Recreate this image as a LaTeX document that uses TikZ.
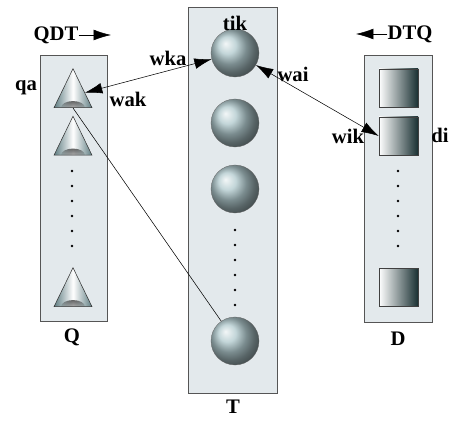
\documentclass[tikz,border=0pt]{standalone}
\usepackage{fontspec}
\setmainfont{Liberation Serif}
\usetikzlibrary{arrows.meta,shapes.geometric,fadings}

\definecolor{boxfill}{RGB}{227,233,236}
\definecolor{boxline}{RGB}{85,85,85}
\definecolor{slate}{RGB}{95,125,130}
\definecolor{ballgrey}{RGB}{175,200,204}
\definecolor{deepteal}{RGB}{25,48,50}

\tikzfading[name=softspot, inner color=transparent!0, outer color=transparent!100]

\tikzset{
    >={Latex[length=13pt,width=8pt]},
    column/.style={draw=boxline, fill=boxfill, inner sep=0pt},
    query/.style={isosceles triangle, shape border rotate=90, isosceles triangle stretches,
        minimum width=28.5pt, minimum height=29.25pt, inner sep=0pt, anchor=south, draw=black!80,
        left color=slate, right color=slate, middle color=white,
        path picture={\fill[black, path fading=softspot] (path picture bounding box.south) ellipse (9pt and 5pt);}},
    term/.style={circle, minimum size=36pt, inner sep=0pt, ball color=ballgrey, draw=black!60, very thin},
    doc/.style={rectangle, minimum width=29.25pt, minimum height=28.5pt, inner sep=0pt,
        draw=black!75, left color=white, middle color=slate!80, right color=deepteal},
    weight/.style={inner sep=1pt}
}

\begin{document}
\begin{tikzpicture}[x=0.75pt, y=-0.75pt, font=\fontsize{15.5}{18}\selectfont\bfseries]
    \useasboundingbox (0,0) rectangle (449,423);
    % the three columns
    \node[column, minimum width=50.25pt, minimum height=199.5pt] (Qbox) at (73.5,188) {};
    \node[column, minimum width=66.75pt, minimum height=289.5pt] (Tbox) at (232.5,200) {};
    \node[column, minimum width=51pt, minimum height=200.25pt] (Dbox) at (398,188.5) {};
    % queries
    \node[query] (q1) at (73,108) {};
    \node[query] (q2) at (73,155.5) {};
    \node[query] (qn) at (73,307) {};
    \foreach \y in {171,186,...,246} \fill (72,\y) circle (1.1pt);
    % terms
    \node[term] (t1) at (235,53) {};
    \node[term] (t2) at (235,123) {};
    \node[term] (t3) at (235,189) {};
    \node[term] (tn) at (235,341) {};
    \foreach \y in {230,245,...,305} \fill (235,\y) circle (1.1pt);
    % documents
    \node[doc] (d1) at (398.5,88) {};
    \node[doc] (d2) at (398.5,136) {};
    \node[doc] (dn) at (398.5,287.5) {};
    \foreach \y in {171,186,...,246} \fill (398,\y) circle (1.1pt);
    % column names
    \node (Qname) at (72,337) {Q};
    \node (Tname) at (233,407) {T};
    \node (Dname) at (398,339) {D};
    \node[inner sep=0pt] (QDT) at (56,35) {QDT};
    \coordinate (QDTend) at (111,35);
    \draw[->] (QDT.east) -- (QDTend);
    \node[inner sep=0pt] (DTQ) at (410,34) {DTQ};
    \coordinate (DTQend) at (356,34);
    \draw[->] (DTQ.west) -- (DTQend);
    % links
    \draw[<->] (q1) -- (t1);
    \draw[<->] (t1) -- (d2.west);
    \draw (q1.south) -- (tn);
    % labels
    \node[weight] (qa) at (26,88) {qa};
    \node[weight] (wak) at (128,99) {wak};
    \node[weight] (wka) at (168,58) {wka};
    \node[weight] (tik) at (235,23) {tik};
    \node[weight] (wai) at (293,74) {wai};
    \node[weight] (wik) at (348,136) {wik};
    \node[weight] (di) at (440,135) {di};
\end{tikzpicture}
\end{document}
